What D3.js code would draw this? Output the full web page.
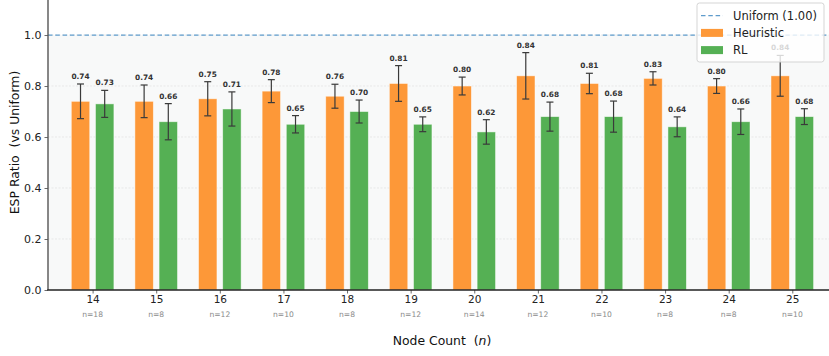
<!DOCTYPE html>
<html>
<head>
<meta charset="utf-8">
<script src="https://cdn.jsdelivr.net/npm/d3@7"></script>
<style>
  html, body { margin: 0; padding: 0; background: #fff; }
  svg { display: block; font-family: "DejaVu Sans", sans-serif; }
  .pre { white-space: pre; }
</style>
</head>
<body>
<svg id="chart" width="829" height="356"></svg>
<script>
// Node counts and number of instances per node count
const nodeCounts = [14, 15, 16, 17, 18, 19, 20, 21, 22, 23, 24, 25];
const sampleSizes = [18, 8, 12, 10, 8, 12, 14, 12, 10, 8, 8, 10];

// Mean ESP ratio relative to the uniform baseline
const heuristicMean = [0.74, 0.74, 0.75, 0.78, 0.76, 0.81, 0.80, 0.84, 0.81, 0.83, 0.80, 0.84];
const rlMean        = [0.73, 0.66, 0.71, 0.65, 0.70, 0.65, 0.62, 0.68, 0.68, 0.64, 0.66, 0.68];

// Standard deviations (error bar half-lengths)
const heuristicErr = [0.068, 0.064, 0.067, 0.045, 0.047, 0.070, 0.035, 0.091, 0.040, 0.026, 0.029, 0.080];
const rlErr        = [0.053, 0.071, 0.067, 0.034, 0.045, 0.029, 0.048, 0.057, 0.061, 0.039, 0.050, 0.031];

const uniformLevel = 1.0;
const yTicks = [0.0, 0.2, 0.4, 0.6, 0.8, 1.0];

const series = [
  { name: "Heuristic", mean: heuristicMean, err: heuristicErr, color: "#fd9838", shift: -0.19 },
  { name: "RL",        mean: rlMean,        err: rlErr,        color: "#55b054", shift:  0.19 }
];

const svg = d3.select("#chart");
const plot = { left: 48, right: 829, top: -5, bottom: 290 };

const x = d3.scaleLinear().domain([14, 25]).range([92.6, 792.3]);
const y = d3.scaleLinear().domain([0, 1.157]).range([plot.bottom, plot.top]);
const barW = x(0.29) - x(0);

// shaded band below the uniform level
svg.append("rect")
  .attr("x", plot.left).attr("y", y(uniformLevel))
  .attr("width", plot.right - plot.left).attr("height", y(0) - y(uniformLevel))
  .attr("fill", "#f8f9f9");

// horizontal grid
svg.append("g").selectAll("line").data(yTicks.slice(1)).join("line")
  .attr("x1", plot.left).attr("x2", plot.right)
  .attr("y1", d => y(d)).attr("y2", d => y(d))
  .attr("stroke", "#dcdcdc").attr("stroke-width", 0.6)
  .attr("stroke-dasharray", "2,1.5");

// bars
series.forEach(s => {
  svg.append("g").selectAll("rect").data(nodeCounts).join("rect")
    .attr("x", (d, i) => x(d + s.shift) - barW / 2)
    .attr("y", (d, i) => y(s.mean[i]))
    .attr("width", barW)
    .attr("height", (d, i) => y(0) - y(s.mean[i]))
    .attr("fill", s.color)
    .attr("stroke", "#ffffff").attr("stroke-opacity", 0.6).attr("stroke-width", 0.8);
});

// error bars
series.forEach(s => {
  const g = svg.append("g").attr("stroke", "#3a3a3a").attr("stroke-width", 1.2);
  nodeCounts.forEach((d, i) => {
    const cx = x(d + s.shift);
    const top = y(s.mean[i] + s.err[i]);
    const bot = y(s.mean[i] - s.err[i]);
    g.append("line").attr("x1", cx).attr("x2", cx).attr("y1", top).attr("y2", bot);
    g.append("line").attr("x1", cx - 3.5).attr("x2", cx + 3.5).attr("y1", top).attr("y2", top);
    g.append("line").attr("x1", cx - 3.5).attr("x2", cx + 3.5).attr("y1", bot).attr("y2", bot);
  });
});

// value labels above the error bars
series.forEach(s => {
  svg.append("g").selectAll("text").data(nodeCounts).join("text")
    .attr("x", (d, i) => x(d + s.shift))
    .attr("y", (d, i) => y(s.mean[i] + s.err[i]) - 5)
    .attr("text-anchor", "middle")
    .attr("font-size", 7.4).attr("font-weight", "bold")
    .attr("fill", "#333")
    .text((d, i) => s.mean[i].toFixed(2));
});

// uniform reference line
svg.append("line")
  .attr("x1", plot.left).attr("x2", plot.right)
  .attr("y1", y(uniformLevel)).attr("y2", y(uniformLevel))
  .attr("stroke", "#5f9ccc").attr("stroke-width", 1.2)
  .attr("stroke-dasharray", "4.5,2.8");

// y axis
const yAxis = d3.axisLeft(y).tickValues(yTicks).tickFormat(d3.format(".1f")).tickSize(3.5).tickPadding(3);
const gy = svg.append("g").attr("transform", `translate(${plot.left},0)`).call(yAxis);
gy.select(".domain").remove();
gy.selectAll(".tick line").attr("stroke", "#444").attr("stroke-width", 0.8);
gy.selectAll(".tick text").attr("font-size", 11).attr("fill", "#222")
  .attr("font-family", "DejaVu Sans, sans-serif");
svg.append("line")
  .attr("x1", plot.left).attr("x2", plot.left)
  .attr("y1", plot.top).attr("y2", plot.bottom)
  .attr("stroke", "#555").attr("stroke-width", 1.4);

// x axis
const xAxis = d3.axisBottom(x).tickValues(nodeCounts).tickFormat(d3.format("d")).tickSize(3.5).tickPadding(2.5);
const gx = svg.append("g").attr("transform", `translate(0,${plot.bottom})`).call(xAxis);
gx.select(".domain").remove();
gx.selectAll(".tick line").attr("stroke", "#444").attr("stroke-width", 0.8);
gx.selectAll(".tick text").attr("font-size", 10.5).attr("fill", "#222")
  .attr("font-family", "DejaVu Sans, sans-serif");
svg.append("line")
  .attr("x1", plot.left - 0.7).attr("x2", plot.right)
  .attr("y1", plot.bottom).attr("y2", plot.bottom)
  .attr("stroke", "#222").attr("stroke-width", 1.4);

// sample-size annotations under the ticks
svg.append("g").selectAll("text").data(nodeCounts).join("text")
  .attr("x", d => x(d))
  .attr("y", 317)
  .attr("text-anchor", "middle")
  .attr("font-size", 7.6).attr("fill", "#8a8a8a")
  .text((d, i) => "n=" + sampleSizes[i]);

// axis titles
const xl = svg.append("text").attr("class", "pre")
  .attr("x", 442).attr("y", 345)
  .attr("text-anchor", "middle").attr("font-size", 12.4).attr("fill", "#111");
xl.append("tspan").text("Node Count  (");
xl.append("tspan").attr("font-style", "italic").text("n");
xl.append("tspan").text(")");

svg.append("text").attr("class", "pre")
  .attr("transform", `translate(18.5,${(plot.top + plot.bottom) / 2}) rotate(-90)`)
  .attr("text-anchor", "middle").attr("font-size", 12.4).attr("fill", "#111")
  .text("ESP Ratio  (vs Uniform)");

// legend
const lg = svg.append("g");
lg.append("rect")
  .attr("x", 697).attr("y", 3).attr("width", 127).attr("height", 59)
  .attr("rx", 2.5).attr("fill", "#ffffff").attr("fill-opacity", 0.8)
  .attr("stroke", "#d0d0d0").attr("stroke-width", 0.9);
const legendItems = [
  { label: "Uniform (1.00)", type: "line", color: "#5f9ccc" },
  { label: "Heuristic", type: "box", color: series[0].color },
  { label: "RL", type: "box", color: series[1].color }
];
legendItems.forEach((it, i) => {
  const cy = 15.7 + i * 17.2;
  if (it.type === "line") {
    lg.append("line").attr("x1", 701).attr("x2", 723).attr("y1", cy).attr("y2", cy)
      .attr("stroke", it.color).attr("stroke-width", 1.2).attr("stroke-dasharray", "4.5,2.8");
  } else {
    lg.append("rect").attr("x", 701).attr("y", cy - 4).attr("width", 22).attr("height", 8)
      .attr("fill", it.color);
  }
  lg.append("text").attr("x", 733).attr("y", cy + 4.2)
    .attr("font-size", 11.5).attr("fill", "#222").text(it.label);
});
</script>
</body>
</html>
